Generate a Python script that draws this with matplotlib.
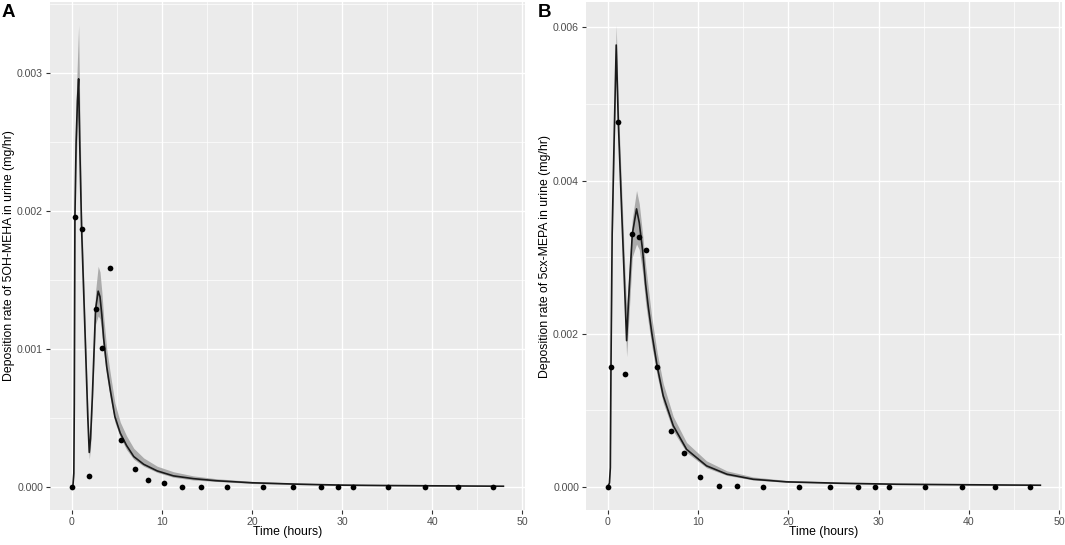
import matplotlib
matplotlib.use("Agg")
import matplotlib.pyplot as plt
from matplotlib.ticker import MultipleLocator, FormatStrFormatter

plt.rcParams['font.family'] = ['Liberation Sans', 'DejaVu Sans']

# observed sampling times (hours), shared by both metabolites
obs_time = [0, 0.37, 1.13, 1.96, 2.68, 3.42, 4.22, 5.5, 7.0, 8.5, 10.2, 12.3,
            14.3, 17.2, 21.2, 24.6, 27.7, 29.6, 31.2, 35.1, 39.2, 42.9, 46.8]

obs_a = [0, 0.00196, 0.00187, 0.00008, 0.00129, 0.00101, 0.00159, 0.00034,
         0.000133, 0.000048, 0.000025, 0, 0, 0, 0, 0, 0, 0, 0, 0, 0, 0, 0]
obs_b = [0, 0.00157, 0.00477, 0.00147, 0.00330, 0.00326, 0.00309, 0.00157,
         0.000735, 0.000445, 0.000132, 0.000013, 0.000013, 0, 0, 0, 0, 0, 0,
         0, 0, 0, 0]

# model prediction (median) with uncertainty band, 5OH-MEHA
fit_time_a = [0, 0.15, 0.25, 0.3, 0.37, 0.5, 0.65, 0.78, 0.9, 1.11, 1.5, 1.8,
              1.96, 2.1, 2.3, 2.66, 2.95, 3.15, 3.35, 3.55, 3.9, 4.3, 4.8,
              5.4, 6.1, 6.9, 8.0, 9.5, 11.3, 13.5, 16, 20, 25, 30, 35, 40, 47.9]
fit_a = [0, 0.00001, 0.0001, 0.0006, 0.00196, 0.0025, 0.0028, 0.00296,
         0.0025, 0.00187, 0.0011, 0.0005, 0.00025, 0.00035, 0.00065, 0.00129,
         0.00142, 0.00138, 0.00125, 0.00108, 0.00087, 0.0007, 0.00051,
         0.00039, 0.0003, 0.00022, 0.000164, 0.000116, 0.00008, 0.00006,
         0.000045, 0.00003, 0.00002, 0.000013, 0.00001, 0.000008, 0.000005]
low_a = [0, 0.00001, 0.00008, 0.0005, 0.0018, 0.0023, 0.0026, 0.0027,
         0.0023, 0.0017, 0.00098, 0.00042, 0.0002, 0.00028, 0.00058, 0.00118,
         0.00124, 0.00122, 0.00112, 0.00098, 0.0008, 0.00064, 0.00047,
         0.00036, 0.00027, 0.0002, 0.00015, 0.000105, 0.00007, 0.00005,
         0.00004, 0.000025, 0.000017, 0.00001, 0.000008, 0.000007, 0.000004]
high_a = [0, 0.00001, 0.00012, 0.0007, 0.0021, 0.0028, 0.0031, 0.00335,
          0.0028, 0.002, 0.0012, 0.00058, 0.00032, 0.00045, 0.00078, 0.00142,
          0.0016, 0.00156, 0.00142, 0.00124, 0.001, 0.00082, 0.00061,
          0.00047, 0.00037, 0.00028, 0.00021, 0.00015, 0.00011, 0.00008,
          0.00006, 0.00004, 0.000028, 0.00002, 0.000015, 0.00001, 0.000006]

# model prediction with uncertainty band, 5cx-MEPA
fit_time_b = [0, 0.2, 0.3, 0.37, 0.5, 0.7, 0.95, 1.18, 1.55, 1.85, 2.1, 2.3,
              2.73, 3.2, 3.5, 3.87, 4.2, 4.5, 4.9, 5.49, 6.15, 7.26, 8.74,
              10.95, 13.2, 16.1, 19.8, 25.7, 32, 40, 47.9]
fit_b = [0, 0.00005, 0.00025, 0.00157, 0.0033, 0.00444, 0.00577, 0.00477,
         0.00361, 0.0027, 0.00191, 0.0024, 0.0033, 0.00363, 0.00345, 0.00309,
         0.00265, 0.00235, 0.002, 0.00157, 0.00119, 0.0008, 0.00049,
         0.000275, 0.000166, 0.0001, 0.000066, 0.000048, 0.000035, 0.000028,
         0.000022]
low_b = [0, 0.00004, 0.0002, 0.0014, 0.0031, 0.0042, 0.0055, 0.0045,
         0.0034, 0.0025, 0.0017, 0.0021, 0.003, 0.00317, 0.0031, 0.0028,
         0.0024, 0.00215, 0.00183, 0.00145, 0.0011, 0.00073, 0.00045,
         0.00025, 0.00015, 0.00009, 0.00006, 0.000042, 0.00003, 0.000024,
         0.00002]
high_b = [0, 0.00006, 0.0003, 0.0017, 0.0035, 0.0047, 0.00603, 0.005,
          0.0039, 0.003, 0.00235, 0.0027, 0.0035, 0.00387, 0.0037, 0.0033,
          0.0029, 0.0026, 0.0022, 0.00175, 0.00135, 0.00092, 0.00058,
          0.00034, 0.00021, 0.00013, 0.000085, 0.00006, 0.000045, 0.000035,
          0.000028]

panels = [
    ("A", "Deposition rate of 5OH-MEHA in urine (mg/hr)", obs_a,
     fit_time_a, fit_a, low_a, high_a, 0.001, (-0.0001675, 0.0035175)),
    ("B", "Deposition rate of 5cx-MEPA in urine (mg/hr)", obs_b,
     fit_time_b, fit_b, low_b, high_b, 0.002, (-0.0003015, 0.0063315)),
]

W, H = 1065, 545
fig = plt.figure(figsize=(W / 100, H / 100), dpi=100)
boxes = [(50, 2, 525, 510), (586, 2, 1062, 510)]

for (tag, ylab, obs, ft, fv, lo, hi, ystep, ylim), (x0, y0, x1, y1) in zip(panels, boxes):
    ax = fig.add_axes([x0 / W, 1 - y1 / H, (x1 - x0) / W, (y1 - y0) / H])
    ax.set_facecolor("#EBEBEB")
    for s in ax.spines.values():
        s.set_visible(False)

    ax.fill_between(ft, lo, hi, color="#ABABAB", lw=0, zorder=2)
    ax.plot(ft, fv, color="#1A1A1A", lw=1.2, zorder=3)
    ax.scatter(obs_time, obs, s=17, color="black", zorder=4, linewidths=0)

    ax.set_xlim(-2.395, 50.295)
    ax.set_ylim(*ylim)
    ax.xaxis.set_major_locator(MultipleLocator(10))
    ax.xaxis.set_minor_locator(MultipleLocator(5))
    ax.yaxis.set_major_locator(MultipleLocator(ystep))
    ax.yaxis.set_minor_locator(MultipleLocator(ystep / 2))
    ax.yaxis.set_major_formatter(FormatStrFormatter("%.3f"))

    ax.grid(which="major", color="white", lw=1.0, zorder=1)
    ax.grid(which="minor", color="white", lw=0.5, zorder=1)
    ax.set_axisbelow(True)

    ax.tick_params(which="major", direction="out", length=3, width=0.8,
                   color="#333333", labelcolor="#4D4D4D", labelsize=7.6, pad=2)
    ax.tick_params(which="minor", length=0)

    ax.set_xlabel("Time (hours)", fontsize=8.8)
    ax.set_ylabel(ylab, fontsize=8.8)
    ax.xaxis.set_label_coords(0.5, -0.032)
    ax.yaxis.set_label_coords(-0.086, 0.5)
    ax.xaxis.label.set_va("top")
    ax.yaxis.label.set_va("center")

    fig.text((x0 - 48) / W, 1 - 4 / H, tag, fontsize=13.5, fontweight="bold",
             va="top", ha="left")

fig.savefig("out.png", dpi=100)
